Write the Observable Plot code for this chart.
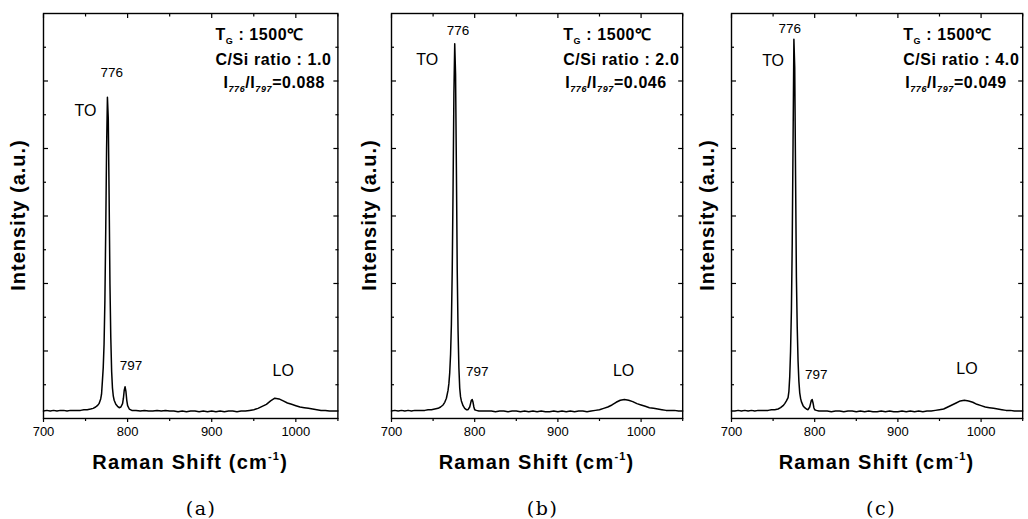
<!DOCTYPE html>
<html><head><meta charset="utf-8">
<script src="https://cdn.jsdelivr.net/npm/d3@7"></script>
<script src="https://cdn.jsdelivr.net/npm/@observablehq/plot@0.6"></script>
<style>
body{margin:0;background:#fff;}
#wrap{position:relative;width:1028px;height:519px;overflow:hidden;background:#fff;}
#wrap svg{position:absolute;top:0;overflow:visible;}
</style></head><body><div id="wrap"></div>
<script>
// Raman shift grid (cm-1)
const shift = [700,704,708,712,716,720,724,728,732,736,
740,744,748,752,756,759,762,764,766,768,
769,770,771,772,773,774,775,776,777,778,
779,780,781,782,783,784,786,788,790,792,
794,795,796,797,798,799,800,802,805,810,
815,820,825,830,835,840,845,850,855,860,
865,870,875,880,885,890,895,900,905,910,
915,920,925,930,935,940,945,950,955,960,
965,970,975,980,985,990,995,1000,1005,1010,
1015,1020,1025,1030,1035,1040,1045,1050];

// (a) C/Si = 1.0
const intensityA = [0.11,0.12,0.11,0.12,0.11,0.12,0.12,0.11,0.12,0.12,
0.12,0.12,0.13,0.13,0.14,0.15,0.17,0.19,0.22,0.29,
0.36,0.55,0.75,1.10,1.75,2.80,4.00,4.76,4.45,3.30,
2.00,1.20,0.70,0.45,0.33,0.27,0.21,0.18,0.16,0.17,
0.22,0.30,0.42,0.47,0.40,0.27,0.19,0.14,0.12,0.12,
0.11,0.12,0.11,0.11,0.12,0.11,0.12,0.11,0.11,0.10,
0.11,0.10,0.11,0.11,0.10,0.11,0.10,0.11,0.10,0.11,
0.10,0.11,0.11,0.10,0.11,0.11,0.12,0.13,0.15,0.18,
0.21,0.26,0.30,0.29,0.26,0.23,0.21,0.19,0.17,0.16,
0.15,0.14,0.13,0.12,0.12,0.11,0.11,0.11];

// (b) C/Si = 2.0
const intensityB = [0.11,0.12,0.11,0.12,0.11,0.12,0.11,0.12,0.12,0.12,
0.12,0.13,0.13,0.14,0.15,0.17,0.20,0.24,0.30,0.42,
0.52,0.68,0.95,1.40,2.20,3.40,4.80,5.55,5.10,3.70,
2.20,1.30,0.75,0.45,0.32,0.26,0.19,0.15,0.13,0.13,
0.17,0.22,0.27,0.28,0.24,0.17,0.13,0.12,0.11,0.11,
0.11,0.11,0.10,0.11,0.11,0.10,0.11,0.11,0.10,0.11,
0.10,0.11,0.10,0.11,0.10,0.10,0.11,0.10,0.11,0.10,
0.11,0.10,0.11,0.11,0.10,0.11,0.12,0.13,0.15,0.17,
0.20,0.24,0.27,0.28,0.27,0.25,0.22,0.20,0.18,0.16,
0.15,0.14,0.13,0.12,0.12,0.12,0.11,0.11];

// (c) C/Si = 4.0
const intensityC = [0.11,0.11,0.12,0.11,0.12,0.11,0.12,0.11,0.12,0.12,
0.12,0.12,0.13,0.13,0.14,0.16,0.19,0.22,0.26,0.31,
0.40,0.62,1.00,1.60,2.60,4.10,5.62,5.20,3.60,2.10,
1.35,0.85,0.55,0.38,0.30,0.25,0.19,0.16,0.14,0.13,
0.17,0.22,0.27,0.28,0.23,0.16,0.13,0.12,0.11,0.11,
0.11,0.10,0.11,0.11,0.10,0.11,0.11,0.10,0.11,0.10,
0.11,0.10,0.10,0.11,0.10,0.11,0.10,0.10,0.11,0.10,
0.11,0.10,0.11,0.10,0.11,0.11,0.12,0.13,0.14,0.17,
0.20,0.23,0.26,0.27,0.26,0.24,0.21,0.19,0.17,0.16,
0.15,0.14,0.13,0.12,0.12,0.11,0.11,0.11];

const xMajor = [700,800,900,1000];
const xMinor = [750,850,950,1050];
const yMajor = [1,2,3,4,5];
const yMinor = [0.5,1.5,2.5,3.5,4.5,5.5];

const peakText = ["776","TO","797","LO"];
const peakFont = [13.5,16,13.5,16];
const peakXA = [781,750,804,985], peakYA = [5.13,4.55,0.785,0.71];
const peakXB = [780,743,803,979], peakYB = [5.75,5.32,0.69,0.70];
const peakXC = [770,750,802,983], peakYC = [5.78,5.30,0.65,0.74];

const captions = ["(a)","(b)","(c)"];
const csRatio = ["1.0","2.0","4.0"];
const iRatio = ["0.088","0.046","0.049"];
const growthT = "1500℃";

const panels = [
  {left:0,     fw:294.4, ys:intensityA, px:peakXA, py:peakYA, infoDx:122, iDx:8, capDx:11, ylx:25.5},
  {left:347.7, fw:291.2, ys:intensityB, px:peakXB, py:peakYB, infoDx:119, iDx:2, capDx:6,  ylx:22.7},
  {left:687.7, fw:291.2, ys:intensityC, px:peakXC, py:peakYC, infoDx:119, iDx:2, capDx:4.5,ylx:24.7}
];

const FONT = "'Liberation Sans', Arial, Helvetica, sans-serif";
const wrap = document.getElementById("wrap");

panels.forEach((p, k) => {
  const width = 43 + p.fw + 6;
  const data = shift.map((s, i) => ({s, v: p.ys[i]}));
  const labels = peakText.map((t, i) => ({t, x: p.px[i], y: p.py[i], f: peakFont[i]}));
  const chart = Plot.plot({
    width, height: 519,
    marginLeft: 43, marginRight: 6, marginTop: 13, marginBottom: 101,
    style: {fontFamily: FONT, fontSize: "12px", color: "black", background: "transparent", overflow: "visible"},
    x: {domain: [700, 1050]},
    y: {domain: [0, 6]},
    marks: [
      Plot.axisX({ticks: xMajor, anchor: "bottom", tickSize: 4, tickPadding: 4, fontSize: 13, tickFormat: d => String(d), label: null, strokeWidth: 1.2}),
      Plot.axisX({ticks: xMinor, anchor: "bottom", tickSize: 3, tickFormat: () => "", label: null, strokeWidth: 1.2}),
      Plot.axisX({ticks: xMajor, anchor: "top", tickSize: -4, tickFormat: () => "", label: null, strokeWidth: 1.2}),
      Plot.axisX({ticks: xMinor, anchor: "top", tickSize: -2.5, tickFormat: () => "", label: null, strokeWidth: 1.2}),
      Plot.axisY({ticks: yMajor, anchor: "left", tickSize: -5, tickFormat: () => "", label: null, strokeWidth: 1.2}),
      Plot.axisY({ticks: yMinor, anchor: "left", tickSize: -3, tickFormat: () => "", label: null, strokeWidth: 1.2}),
      Plot.axisY({ticks: yMajor, anchor: "right", tickSize: -5, tickFormat: () => "", label: null, strokeWidth: 1.2}),
      Plot.axisY({ticks: yMinor, anchor: "right", tickSize: -3, tickFormat: () => "", label: null, strokeWidth: 1.2}),
      Plot.frame({stroke: "black", strokeWidth: 1.4}),
      Plot.line(data, {x: "s", y: "v", stroke: "black", strokeWidth: 1.5}),
      Plot.text(labels, {x: "x", y: "y", text: "t", fontSize: "f", fill: "black"})
    ]
  });
  chart.style.left = p.left + "px";
  wrap.appendChild(chart);

  const svg = d3.select(chart);
  const fl = 43, fr = 43 + p.fw, fc = 43 + p.fw / 2;

  // info block
  const info = svg.append("g")
    .attr("font-family", FONT).attr("font-weight", "bold").attr("text-anchor", "start")
    .attr("font-size", 16).attr("letter-spacing", "0.6").attr("fill", "black");
  const t1 = info.append("text").attr("x", fr - p.infoDx).attr("y", 40);
  t1.append("tspan").text("T");
  t1.append("tspan").attr("font-size", 9).attr("dy", 4).text("G");
  t1.append("tspan").attr("dy", -4).text(" : " + growthT);
  info.append("text").attr("x", fr - p.infoDx).attr("y", 65).text("C/Si ratio : " + csRatio[k]);
  const t3 = info.append("text").attr("x", fr - p.infoDx + p.iDx).attr("y", 88);
  t3.append("tspan").text("I");
  t3.append("tspan").attr("font-size", 9).attr("dy", 4).attr("font-style", "italic").text("776");
  t3.append("tspan").attr("dy", -4).text("/I");
  t3.append("tspan").attr("font-size", 9).attr("dy", 4).attr("font-style", "italic").text("797");
  t3.append("tspan").attr("dy", -4).text("=" + iRatio[k]);

  // y axis title
  svg.append("text")
    .attr("transform", `translate(${fl - p.ylx},215) rotate(-90)`)
    .attr("text-anchor", "middle").attr("dy", "0.36em")
    .attr("font-family", FONT).attr("font-weight", "bold").attr("font-size", 20)
    .attr("letter-spacing", "1").attr("fill", "black")
    .text("Intensity (a.u.)");

  // x axis title
  const xt = svg.append("text")
    .attr("x", fc).attr("y", 469.5).attr("text-anchor", "middle")
    .attr("font-family", FONT).attr("font-weight", "bold").attr("font-size", 20)
    .attr("letter-spacing", "1.2").attr("fill", "black");
  xt.append("tspan").text("Raman Shift (cm");
  xt.append("tspan").attr("font-size", 11).attr("dy", -9).text("-1");
  xt.append("tspan").attr("dy", 9).text(")");

  // caption
  svg.append("text")
    .attr("x", fc + p.capDx).attr("y", 515).attr("text-anchor", "middle")
    .attr("font-family", "'DejaVu Serif', 'Liberation Serif', serif").attr("font-size", 19)
    .attr("letter-spacing", "1.5").attr("fill", "black")
    .text(captions[k]);
});
</script>
</body></html>
